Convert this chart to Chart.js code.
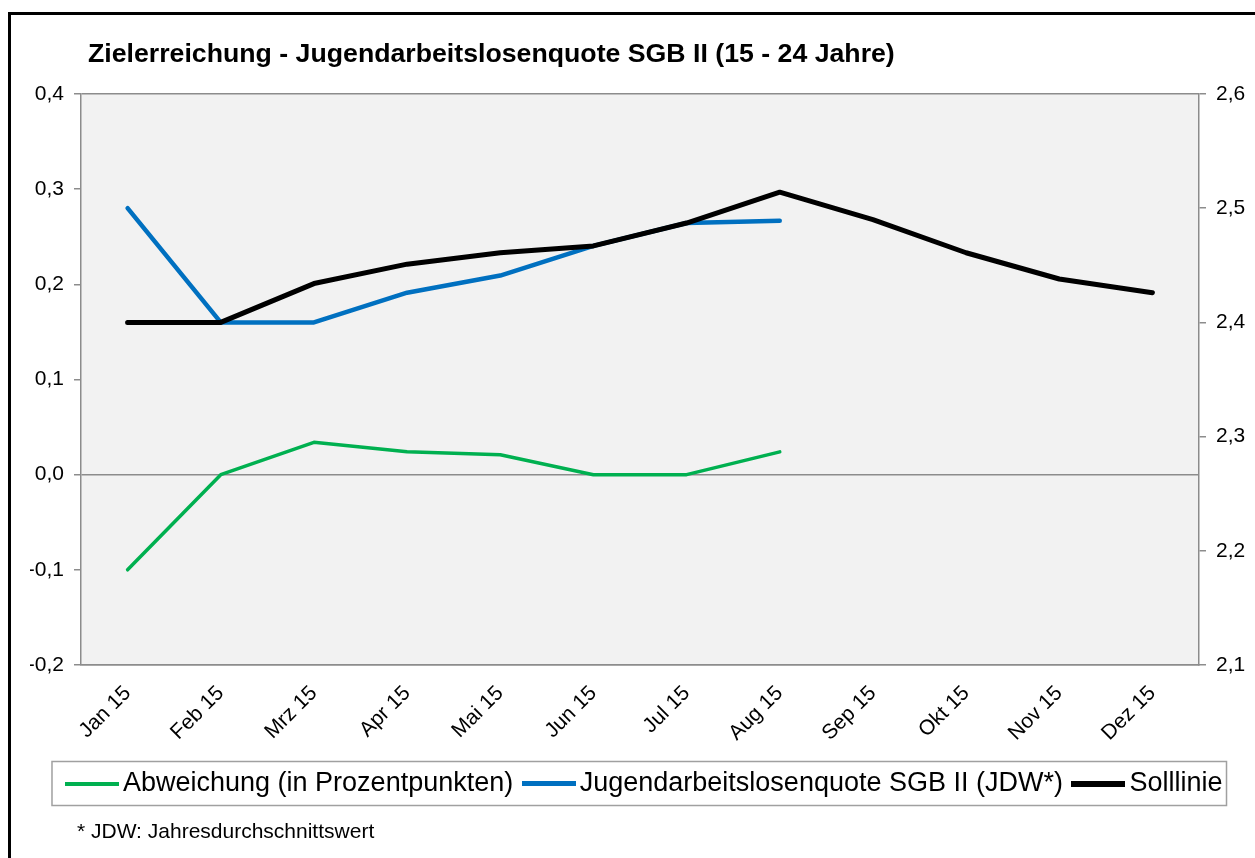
<!DOCTYPE html>
<html lang="de">
<head>
  <meta charset="UTF-8">
  <title>Zielerreichung - Jugendarbeitslosenquote SGB II</title>
  <script src="https://cdn.jsdelivr.net/npm/chart.js"></script>
  <style>
    body { margin: 0; width: 1255px; height: 858px; overflow: hidden; background: #fff; font-family: "Liberation Sans", Arial, sans-serif; }
    #wrap { position: absolute; left: 0; top: 0; width: 1255px; height: 858px; }
    #frame { position: absolute; left: 8px; top: 12px; width: 1400px; height: 1000px; border: 3px solid #000; pointer-events: none; }
    #title { position: absolute; left: 88px; top: 40px; font-size: 26.7px; line-height: 26px; font-weight: bold; color: #000; white-space: nowrap; }
    #note { position: absolute; left: 77px; top: 820px; font-size: 21px; line-height: 21px; color: #000; white-space: nowrap; }
  </style>
</head>
<body>

<div id="wrap"><canvas id="chart" width="1255" height="858"></canvas></div>
<div id="frame"></div>
<div id="title">Zielerreichung - Jugendarbeitslosenquote SGB II (15 - 24 Jahre)</div>
<div id="note">* JDW: Jahresdurchschnittswert</div>

<script>
  const months = ['Jan 15', 'Feb 15', 'Mrz 15', 'Apr 15', 'Mai 15', 'Jun 15', 'Jul 15', 'Aug 15', 'Sep 15', 'Okt 15', 'Nov 15', 'Dez 15'];
  // left axis (Prozentpunkte)
  const abweichung = [-0.1, 0, 0.034, 0.024, 0.021, 0, 0, 0.024];
  // right axis
  const quote = [2.5, 2.4, 2.4, 2.426, 2.441, 2.467, 2.487, 2.489];
  const soll = [2.4, 2.4, 2.434, 2.451, 2.461, 2.467, 2.487, 2.514, 2.49, 2.461, 2.438, 2.426];

  const GREEN = '#00B050', BLUE = '#0070C0', BLACK = '#000000', AXIS = '#8c8c8c';
  const fmt = v => Number(v).toFixed(1).replace('.', ',');

  Chart.defaults.font.family = '"Liberation Sans", Arial, sans-serif';
  Chart.defaults.color = '#000';

  // legend line sample
  function swatch(color, h) {
    const c = document.createElement('canvas');
    c.width = 54; c.height = h;
    const g = c.getContext('2d');
    g.fillStyle = color;
    g.fillRect(0, 0, 54, h);
    return c;
  }
  const swatches = [swatch(GREEN, 4), swatch(BLUE, 5), swatch(BLACK, 6)];

  const plotBg = {
    id: 'plotBg',
    beforeDraw(chart) {
      const a = chart.chartArea, ctx = chart.ctx;
      ctx.save();
      ctx.fillStyle = '#f2f2f2';
      ctx.fillRect(a.left, a.top, a.right - a.left, a.bottom - a.top);
      ctx.restore();
    }
  };

  const legendBox = {
    id: 'legendBox',
    afterDraw(chart) {
      const hb = chart.legend.legendHitBoxes;
      if (!hb || !hb.length) return;
      const first = hb[0], last = hb[hb.length - 1];
      const cy = first.top + first.height / 2;
      const ctx = chart.ctx;
      ctx.save();
      ctx.strokeStyle = '#a0a0a0';
      ctx.lineWidth = 1.5;
      ctx.strokeRect(first.left - 22.5, cy - 22, last.left + last.width + 4 - (first.left - 22.5), 44);
      ctx.restore();
    }
  };

  new Chart(document.getElementById('chart'), {
    type: 'line',
    data: {
      labels: months,
      datasets: [
        { label: 'Abweichung (in Prozentpunkten)', data: abweichung, yAxisID: 'y', borderColor: GREEN, backgroundColor: GREEN, borderWidth: 3.5, order: 2 },
        { label: 'Jugendarbeitslosenquote SGB II (JDW*)', data: quote, yAxisID: 'y1', borderColor: BLUE, backgroundColor: BLUE, borderWidth: 4.5, order: 1 },
        { label: 'Solllinie', data: soll, yAxisID: 'y1', borderColor: BLACK, backgroundColor: BLACK, borderWidth: 5, order: 0 }
      ]
    },
    options: {
      responsive: false,
      animation: false,
      events: [],
      elements: {
        line: { tension: 0, borderJoinStyle: 'round', borderCapStyle: 'round' },
        point: { radius: 0 }
      },
      layout: { padding: { left: 30, right: -12, top: 94, bottom: 51 } },
      scales: {
        x: {
          offset: true,
          grid: { display: false, offset: true },
          border: { display: true, color: AXIS, width: 1.5 },
          ticks: { autoSkip: false, minRotation: 45, maxRotation: 45, padding: 8, font: { size: 21 } },
          afterFit(s) { s.height = 87; }
        },
        y: {
          position: 'left',
          min: -0.2, max: 0.4,
          grid: {
            color: c => (c.tick && [0, 0.4, -0.2].some(v => Math.abs(c.tick.value - v) < 1e-9)) ? AXIS : 'rgba(0,0,0,0)',
            lineWidth: 1.5,
            tickColor: AXIS,
            tickLength: 7
          },
          border: { display: true, color: AXIS, width: 1.5 },
          ticks: { stepSize: 0.1, padding: 10, font: { size: 21 }, callback: v => fmt(v) },
          afterFit(s) { s.width = 51; }
        },
        y1: {
          position: 'right',
          min: 2.1, max: 2.6,
          grid: { drawOnChartArea: false, tickColor: AXIS, tickLength: 7, lineWidth: 1.5 },
          border: { display: true, color: AXIS, width: 1.5 },
          ticks: { stepSize: 0.1, padding: 10, font: { size: 21 }, callback: v => fmt(v) },
          afterFit(s) { s.width = 68; }
        }
      },
      plugins: {
        title: { display: false },
        tooltip: { enabled: false },
        legend: {
          position: 'bottom',
          align: 'center',
          labels: {
            usePointStyle: true,
            pointStyleWidth: 35,
            padding: 18,
            color: '#000',
            font: { size: 27 },
            sort: (a, b) => a.datasetIndex - b.datasetIndex,
            generateLabels: chart => Chart.defaults.plugins.legend.labels.generateLabels(chart)
              .map(item => Object.assign(item, { pointStyle: swatches[item.datasetIndex] }))
          }
        }
      }
    },
    plugins: [plotBg, legendBox]
  });
</script>

</body>
</html>
